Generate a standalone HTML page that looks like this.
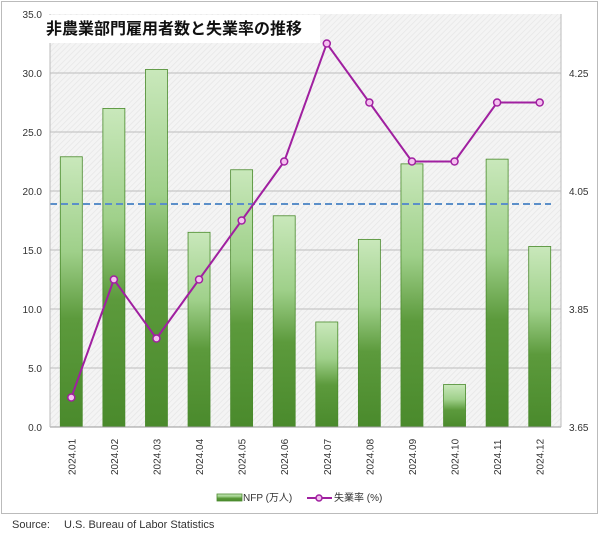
<!DOCTYPE html>
<html><head><meta charset="utf-8"><style>
body{margin:0;background:#fff;font-family:"Liberation Sans","Noto Sans CJK JP",sans-serif;}
svg text{font-family:"Liberation Sans","Noto Sans CJK JP",sans-serif;}
</style></head><body>
<svg id="c" width="600" height="533" xmlns="http://www.w3.org/2000/svg">
<defs>
<linearGradient id="g" x1="0" y1="0" x2="0" y2="1">
<stop offset="0" stop-color="#c9e8bb"/><stop offset="0.35" stop-color="#9fd08a"/><stop offset="0.6" stop-color="#5c9a3c"/><stop offset="1" stop-color="#4a8a2c"/>
</linearGradient>
<pattern id="h" width="4" height="4" patternUnits="userSpaceOnUse" patternTransform="rotate(45)">
<rect width="4" height="4" fill="#f4f4f4"/><line x1="0" y1="0" x2="0" y2="4" stroke="#e6e6e6" stroke-width="1.5"/>
</pattern>
</defs>
<rect x="1.5" y="1.5" width="596" height="512" fill="#fff" stroke="#bbb"/>
<rect x="50" y="14" width="511" height="413" fill="url(#h)"/>
<g id="grid"></g><g id="bars"></g><g id="line"></g><g id="axes"></g>
<rect x="43" y="15" width="277" height="28" fill="#fff"/>
<text x="46" y="34" font-size="16" font-weight="bold" fill="#111">非農業部門雇用者数と失業率の推移</text>
<g>
<rect x="217" y="494" width="25" height="7" fill="url(#g)" stroke="#4a8a2c" stroke-width="0.8"/>
<text x="243" y="501" font-size="10" fill="#333">NFP (万人)</text>
<line x1="307" y1="498" x2="332" y2="498" stroke="#a020a0" stroke-width="2"/>
<circle cx="319" cy="498" r="3" fill="#f5c0f0" stroke="#a020a0" stroke-width="1.5"/>
<text x="334" y="501" font-size="10" fill="#333">失業率 (%)</text>
</g>
<text x="12" y="528" font-size="11" fill="#333">Source:</text>
<text x="64" y="528" font-size="11" fill="#333">U.S. Bureau of Labor Statistics</text>
</svg>
<script>
const categories=["2024.01","2024.02","2024.03","2024.04","2024.05","2024.06","2024.07","2024.08","2024.09","2024.10","2024.11","2024.12"];
const nfp=[22.9,27.0,30.3,16.5,21.8,17.9,8.9,15.9,22.3,3.6,22.7,15.3];
const unemp=[3.7,3.9,3.8,3.9,4.0,4.1,4.3,4.2,4.1,4.1,4.2,4.2];
const average=18.9;
const leftTicks=[0,5,10,15,20,25,30,35];
const rightTicks=[3.65,3.85,4.05,4.25];
const NS="http://www.w3.org/2000/svg";
const L=50,R=561,T=14,B=427;
const yL=v=>B-(v/35)*(B-T);
const yR=v=>B-(v-3.65)/0.7*(B-T);
const bw=(R-L)/categories.length;
const xC=i=>L+bw*(i+0.5);
function mk(p,tag,a){const e=document.createElementNS(NS,tag);for(const k in a)e.setAttribute(k,a[k]);document.getElementById(p).appendChild(e);return e;}
leftTicks.forEach(t=>{
 if(t>0&&t<35){const g=mk('grid','line',{x1:L,x2:R,y1:yL(t),y2:yL(t),stroke:'#bdbdbd','stroke-width':1});
 
 }
 const tx=mk('axes','text',{x:L-8,y:yL(t)+4,'font-size':10,'text-anchor':'end',fill:'#333'});tx.textContent=t.toFixed(1);
 
 
});
rightTicks.forEach(t=>{
 const tx=mk('axes','text',{x:R+8,y:yR(t)+4,'font-size':10,fill:'#333'});tx.textContent=t.toFixed(2);
 
 
});
mk('axes','line',{x1:L,x2:R,y1:B,y2:B,stroke:'#999'});
mk('axes','line',{x1:L,x2:L,y1:T,y2:B,stroke:'#bbb'});
mk('axes','line',{x1:R,x2:R,y1:T,y2:B,stroke:'#bbb'});
categories.forEach((c,i)=>{
 const y=yL(nfp[i]);
 const r=mk('bars','rect',{x:xC(i)-11,y:y,width:22,height:B-y,fill:'url(#g)',stroke:'#4a8a2c','stroke-width':0.8});
 
 
 const tx=mk('axes','text',{transform:`translate(${xC(i)+4},${B+48}) rotate(-90)`,'font-size':10,fill:'#333'});tx.textContent=c;
 
 
});
const av=mk('line','line',{x1:L,x2:R-10,y1:yL(average),y2:yL(average),stroke:'#5b8fc9','stroke-width':2,'stroke-dasharray':'7,4'});


const pl=mk('line','polyline',{points:unemp.map((v,i)=>xC(i)+','+yR(v)).join(' '),fill:'none',stroke:'#a020a0','stroke-width':2});


unemp.forEach((v,i)=>{
 const p=mk('line','circle',{cx:xC(i),cy:yR(v),r:3.5,fill:'#f5c0f0',stroke:'#a020a0','stroke-width':1.5});
 
 
});
</script>
</body></html>
